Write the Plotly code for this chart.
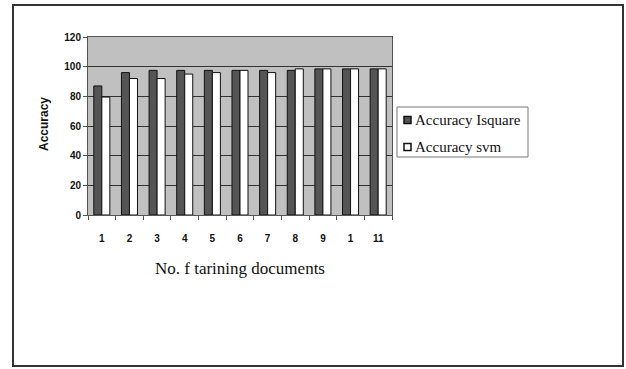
import plotly.graph_objects as go

# Accuracy per number of training documents
positions = [1, 2, 3, 4, 5, 6, 7, 8, 9, 10, 11]
tick_labels = ["1", "2", "3", "4", "5", "6", "7", "8", "9", "1", "11"]
acc_isquare = [87, 96, 97.5, 97.5, 97.5, 97.5, 97.5, 97.5, 98.5, 98.5, 98.5]
acc_svm = [79.5, 92, 92, 95, 96, 97.5, 96, 98.5, 98.5, 98.5, 98.5]
y_ticks = [0, 20, 40, 60, 80, 100, 120]
series_names = ["Accuracy Isquare", "Accuracy svm"]
series_colors = ["#555555", "#ffffff"]

fig = go.Figure()
for name, color, vals in zip(series_names, series_colors, [acc_isquare, acc_svm]):
    fig.add_trace(go.Bar(x=positions, y=vals, name=name,
                         marker=dict(color=color, line=dict(color="#111111", width=1))))

L, R, T, B = 88, 234, 37, 154
fig.update_layout(
    width=626, height=369,
    margin=dict(l=L, r=R, t=T, b=B, pad=0),
    paper_bgcolor="white",
    plot_bgcolor="#c0c0c0",
    barmode="group", bargap=0.42, bargroupgap=0,
    showlegend=False,
    font=dict(family="Liberation Sans", size=10, color="#111111"),
)

tick_font = dict(family="Liberation Sans", size=10, color="#111111", weight="bold")
fig.update_xaxes(
    range=[0.5, 11.5],
    tickmode="array", tickvals=positions, ticktext=tick_labels,
    ticks="outside", ticklen=14, tickcolor="rgba(0,0,0,0)",
    tickfont=tick_font,
    showgrid=False, zeroline=False,
    showline=True, linecolor="#555555", linewidth=1, mirror=True,
    minor=dict(tick0=0.5, dtick=1, ticks="outside", ticklen=4,
               tickcolor="#555555", showgrid=False),
)
fig.update_yaxes(
    range=[0, 120],
    tickmode="array", tickvals=y_ticks,
    ticks="outside", ticklen=4, tickcolor="#555555",
    tickfont=tick_font,
    showgrid=True, gridcolor="#333333", gridwidth=1, zeroline=False,
    showline=True, linecolor="#555555", linewidth=1, mirror=True,
)

pw, ph = 626 - L - R, 369 - T - B

def px_x(v):
    return (v - L) / pw

def px_y(v):
    return (369 - B - v) / ph

# outer frame around the chart
fig.add_shape(type="rect", xref="paper", yref="paper",
              x0=px_x(13), x1=px_x(623), y0=px_y(366), y1=px_y(5),
              line=dict(color="#333333", width=2), fillcolor="rgba(0,0,0,0)",
              layer="below")

# legend box with a small swatch per series
fig.add_shape(type="rect", xref="paper", yref="paper",
              x0=px_x(397), x1=px_x(528), y0=px_y(157), y1=px_y(107),
              line=dict(color="#777777", width=1), fillcolor="white")
for i, (name, color) in enumerate(zip(series_names, series_colors)):
    cy = 120 + 27 * i
    fig.add_shape(type="rect", xref="paper", yref="paper",
                  x0=px_x(404), x1=px_x(411), y0=px_y(cy + 3.5), y1=px_y(cy - 3.5),
                  line=dict(color="#111111", width=1.5), fillcolor=color)
    fig.add_annotation(text=name, showarrow=False, xref="paper", yref="paper",
                       x=px_x(413), y=px_y(cy), xanchor="left", yanchor="middle",
                       font=dict(family="Liberation Serif", size=15, color="#111111"))

fig.add_annotation(text="<b>Accuracy</b>", textangle=-90, showarrow=False,
                   xref="paper", yref="paper", x=px_x(44), y=px_y(124),
                   xanchor="center", yanchor="middle",
                   font=dict(family="Liberation Sans", size=12, color="#111111"))
fig.add_annotation(text="No. f tarining documents", showarrow=False,
                   xref="paper", yref="paper", x=0.5, y=px_y(268),
                   xanchor="center", yanchor="middle",
                   font=dict(family="Liberation Serif", size=17, color="#111111"))

fig.write_html("out.html")
